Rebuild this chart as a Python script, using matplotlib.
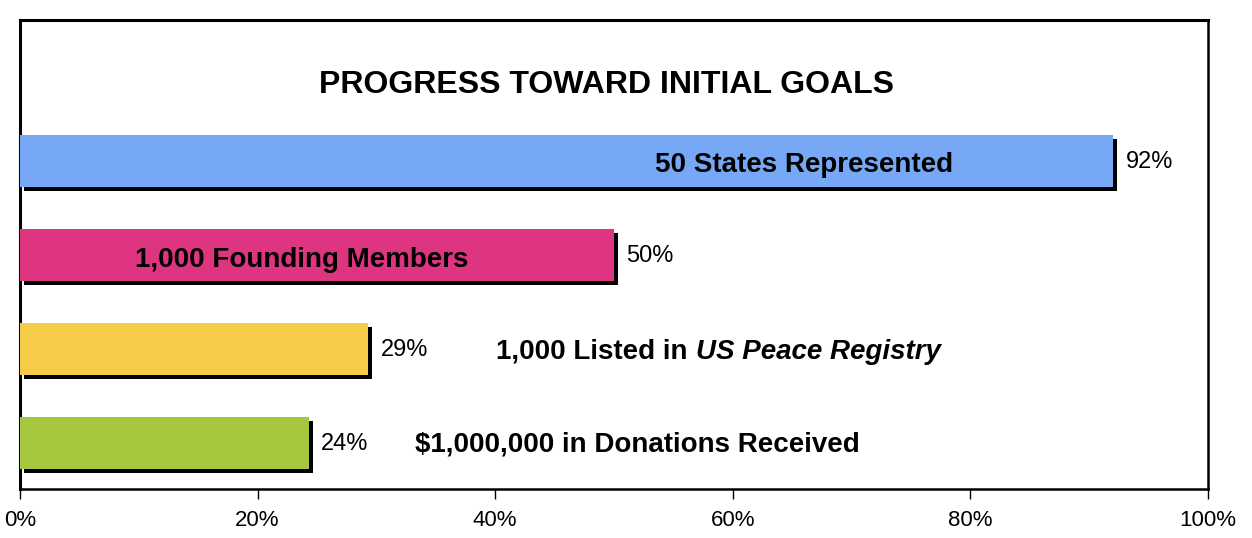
import matplotlib
matplotlib.use('Agg')
import matplotlib.pyplot as plt
import matplotlib.patheffects as pe
from matplotlib.ticker import PercentFormatter

plt.rcParams['font.family'] = ['Liberation Sans', 'DejaVu Sans']

# data
goals = ['50 States Represented', '1,000 Founding Members',
         '1,000 Listed in ', '$1,000,000 in Donations Received']
progress = [92, 50, 29.3, 24.3]
colors = ['#76A8F5', '#DE3580', '#F5CB47', '#A5C83F']
x_ticks = [0, 20, 40, 60, 80, 100]

fig = plt.figure(figsize=(12.52, 5.38), dpi=100)
ax = fig.add_axes([20 / 1252, 49 / 538, 1188 / 1252, 469 / 538])

# bars with a solid black drop shadow
shadow = [pe.SimplePatchShadow(offset=(2.9, -2.9), shadow_rgbFace='black', alpha=1.0), pe.Normal()]
bars = ax.barh(range(len(progress)), progress, height=0.55, color=colors,
               edgecolor='none', zorder=3)
for b in bars:
    b.set_path_effects(shadow)

for i, v in enumerate(progress):
    ax.annotate(f'{v:.0f}%', xy=(v, i), xytext=(9, -1), textcoords='offset points',
                va='center', ha='left', fontsize=17)

# labels on / beside the bars
ax.text(66, 0.04, goals[0], ha='center', va='center', fontsize=20, fontweight='bold', zorder=4)
ax.text(23.7, 1.05, goals[1], ha='center', va='center', fontsize=20, fontweight='bold', zorder=4)
t3 = ax.text(40.1, 2.03, goals[2], ha='left', va='center', fontsize=20, fontweight='bold', zorder=4)
ax.annotate('US Peace Registry', xy=(1, 0), xycoords=t3, ha='left', va='bottom',
            fontsize=20, fontweight='bold', fontstyle='italic', zorder=4)
ax.text(52, 3.02, goals[3], ha='center', va='center', fontsize=20, fontweight='bold', zorder=4)

ax.text(49.4, -0.81, 'PROGRESS TOWARD INITIAL GOALS', ha='center', va='center',
        fontsize=23, fontweight='bold')

ax.set_xlim(0, 100)
ax.set_ylim(3.49, -1.5)
ax.set_xticks(x_ticks)
ax.xaxis.set_major_formatter(PercentFormatter(decimals=0))
ax.set_yticks([])
ax.tick_params(axis='x', direction='out', length=7, width=1, labelsize=16, pad=8)
for side in ['top', 'left']:
    ax.spines[side].set_linewidth(2.2)
for side in ['bottom', 'right']:
    ax.spines[side].set_linewidth(1.8)

fig.savefig('out.png', dpi=100)
